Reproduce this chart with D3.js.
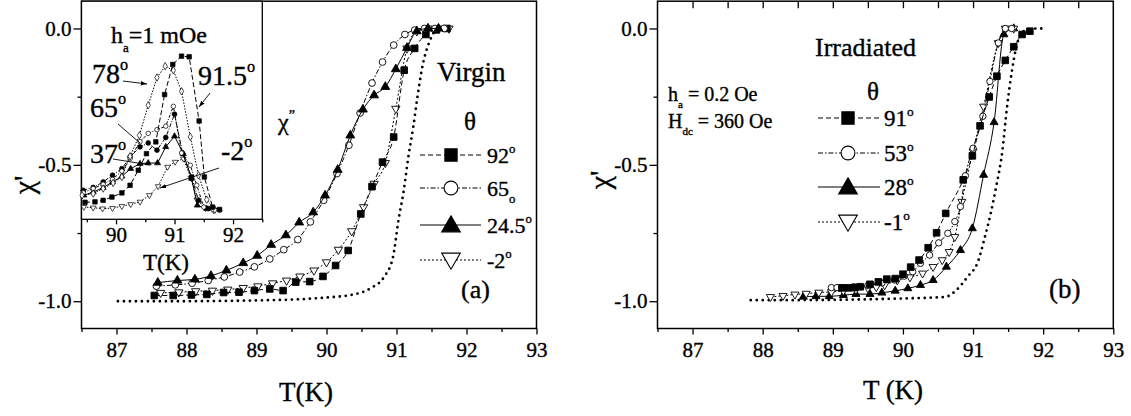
<!DOCTYPE html>
<html><head><meta charset="utf-8">
<script src="https://cdn.jsdelivr.net/npm/d3@7"></script>
<style>
html,body{margin:0;padding:0;background:#fff;}
svg{display:block;font-family:'Liberation Serif','DejaVu Serif',serif;}
svg text{font-family:'Liberation Serif','DejaVu Serif',serif !important;fill:#000;stroke:#000;stroke-width:0.35px;}
</style>
</head><body>
<svg id="c" width="1131" height="416"></svg>
<script>
// ---------------- DATA ----------------
const xTicks = [87, 88, 89, 90, 91, 92, 93];
const yTicks = [0, -0.5, -1.0];
const insetTicks = [90, 91, 92];

// Panel (a) Virgin, chi'
const a92T = [87.54,87.81,88.07,88.29,88.53,88.75,88.97,89.19,89.38,89.56,89.76,89.95,90.13,90.31,90.49,90.65,90.80,90.96,91.11,91.26,91.42,91.57,91.72];
const a92V = [-0.979,-0.979,-0.977,-0.975,-0.968,-0.967,-0.961,-0.955,-0.961,-0.930,-0.928,-0.909,-0.869,-0.814,-0.68,-0.58,-0.490,-0.398,-0.153,-0.073,-0.022,-0.005,0.0];
const a65T = [87.57,87.84,88.08,88.31,88.54,88.76,88.97,89.19,89.39,89.59,89.77,89.96,90.15,90.32,90.48,90.65,90.80,90.96,91.12,91.26,91.40,91.55,91.68];
const a65V = [-0.945,-0.940,-0.934,-0.924,-0.911,-0.893,-0.874,-0.845,-0.811,-0.774,-0.709,-0.630,-0.532,-0.428,-0.310,-0.200,-0.123,-0.061,-0.022,-0.006,0,0,0];
const a245T = [87.59,87.87,88.12,88.35,88.57,88.81,89.01,89.21,89.42,89.61,89.81,89.98,90.16,90.34,90.52,90.68,90.84,90.99,91.15,91.29,91.45,91.60];
const a245V = [-0.932,-0.924,-0.920,-0.907,-0.887,-0.860,-0.833,-0.793,-0.758,-0.711,-0.674,-0.612,-0.518,-0.392,-0.297,-0.245,-0.214,-0.149,-0.071,-0.010,0,0];
const am2T = [87.63,87.89,88.13,88.37,88.59,88.81,89.02,89.23,89.43,89.62,89.82,90.00,90.17,90.36,90.53,90.68,90.84,90.99,91.15,91.29,91.45,91.60,91.75];
const am2V = [-0.969,-0.967,-0.963,-0.961,-0.957,-0.951,-0.945,-0.934,-0.924,-0.909,-0.887,-0.857,-0.811,-0.743,-0.655,-0.569,-0.493,-0.294,-0.073,-0.010,0,0,0];
const aRefT = [87.02,87.5,88.0,88.5,89.0,89.5,89.92,90.39,90.64,90.82,90.95,91.03,91.10,91.17,91.24,91.30,91.36,91.48,91.57,91.75];
const aRefV = [-1.0,-1.0,-1.0,-0.999,-0.997,-0.994,-0.988,-0.975,-0.951,-0.912,-0.838,-0.70,-0.60,-0.47,-0.36,-0.25,-0.153,-0.043,-0.006,0];

// Inset (a): chi'' (arbitrary units, 0 = bottom of inset)
const i915T = [89.47,89.64,89.78,89.93,90.10,90.24,90.38,90.52,90.68,90.83,90.97,91.12,91.25,91.42,91.51,91.65,91.77];
const i915V = [0.078,0.080,0.087,0.102,0.121,0.156,0.225,0.301,0.355,0.572,0.710,0.748,0.745,0.451,0.194,0.056,0.045];
const i78T = [89.42,89.61,89.78,89.95,90.10,90.24,90.40,90.55,90.70,90.84,90.98,91.12,91.27,91.41,91.55,91.69];
const i78V = [0.110,0.118,0.141,0.167,0.194,0.289,0.385,0.523,0.650,0.702,0.683,0.587,0.378,0.202,0.090,0.044];
const i65T = [89.44,89.61,89.78,89.94,90.10,90.24,90.41,90.55,90.70,90.85,90.98,91.12,91.27,91.38,91.50,91.66,91.77];
const i65V = [0.122,0.141,0.161,0.183,0.221,0.278,0.356,0.394,0.411,0.427,0.518,0.304,0.248,0.156,0.056,0.044,0.041];
const iFcT = [89.44,89.61,89.78,89.94,90.10,90.24,90.41,90.55,90.70,90.85,91.00,91.14,91.29,91.41,91.58];
const iFcV = [0.133,0.146,0.171,0.202,0.232,0.286,0.332,0.350,0.317,0.375,0.482,0.301,0.194,0.087,0.049];
const i37T = [89.45,89.61,89.78,89.94,90.10,90.25,90.41,90.55,90.71,90.85,91.00,91.15,91.29,91.39,91.55];
const i37V = [0.110,0.125,0.145,0.171,0.197,0.232,0.255,0.258,0.258,0.332,0.381,0.301,0.187,0.064,0.049];
const im2T = [89.45,89.61,89.77,89.94,90.10,90.25,90.41,90.57,90.72,90.88,91.01,91.15,91.28,91.38,91.53,91.67];
const im2V = [0.056,0.053,0.049,0.051,0.060,0.069,0.080,0.110,0.151,0.240,0.263,0.278,0.190,0.090,0.050,0.040];

// Panel (b) Irradiated, chi'
const b91T = [89.13,89.22,89.31,89.39,89.53,89.65,89.77,89.89,90.00,90.11,90.23,90.36,90.48,90.61,90.86,90.99,91.10,91.23,91.34,91.46,91.58,91.70,91.81];
const b91V = [-0.951,-0.951,-0.950,-0.947,-0.938,-0.929,-0.919,-0.917,-0.901,-0.875,-0.849,-0.804,-0.749,-0.678,-0.555,-0.467,-0.357,-0.251,-0.175,-0.117,-0.067,-0.022,-0.010];
const b53T = [88.98,89.06,89.13,89.30,89.50,89.70,89.88,90.02,90.14,90.25,90.38,90.51,90.64,90.74,90.82,90.89,91.00,91.14,91.24,91.36,91.46,91.55];
const b53V = [-0.950,-0.950,-0.950,-0.947,-0.942,-0.933,-0.922,-0.908,-0.892,-0.861,-0.831,-0.786,-0.751,-0.708,-0.653,-0.54,-0.439,-0.322,-0.194,-0.053,0,0];
const b28T = [88.58,88.76,88.95,89.15,89.33,89.53,89.70,89.89,90.07,90.25,90.43,90.62,90.82,90.99,91.15,91.30,91.44,91.58];
const b28V = [-0.984,-0.982,-0.982,-0.978,-0.974,-0.974,-0.969,-0.962,-0.953,-0.941,-0.923,-0.874,-0.813,-0.733,-0.537,-0.344,-0.022,0];
const bm1T = [88.11,88.29,88.46,88.62,88.80,88.98,89.15,89.33,89.50,89.62,89.74,89.92,90.10,90.28,90.43,90.56,90.66,90.74,90.84,91.00,91.15,91.36,91.46,91.58];
const bm1V = [-0.984,-0.980,-0.975,-0.972,-0.968,-0.966,-0.962,-0.958,-0.952,-0.948,-0.941,-0.923,-0.912,-0.898,-0.874,-0.849,-0.819,-0.764,-0.635,-0.45,-0.286,-0.053,0,0];
const bRefT = [87.83,88.5,89.0,89.5,90.0,90.4,90.61,90.76,90.92,91.07,91.17,91.25,91.33,91.42,91.48,91.55,91.62,91.72,91.84,92.0];
const bRefV = [-0.996,-0.996,-0.995,-0.993,-0.990,-0.987,-0.984,-0.960,-0.911,-0.855,-0.763,-0.680,-0.580,-0.445,-0.298,-0.163,-0.065,-0.010,-0.001,0];

// ---------------- DRAWING ----------------
const FONT = "'Liberation Serif','DejaVu Serif',serif";
const svg = d3.select('#c');
svg.append('rect').attr('width',1131).attr('height',416).attr('fill','#fff');
const defs = svg.append('defs');
defs.append('marker').attr('id','ah').attr('viewBox','0 0 10 10').attr('refX',10).attr('refY',5)
  .attr('markerWidth',7).attr('markerHeight',7).attr('orient','auto')
  .append('path').attr('d','M0,1.5L10,5L0,8.5z').attr('fill','#000');

const TOP = 1.2, BOT = 328.5;
const xa = d3.scaleLinear().domain([86.5,93]).range([81.5,536.5]);
const xb = d3.scaleLinear().domain([86.5,93]).range([657.5,1113.3]);
const ya = d3.scaleLinear().domain([-1.1,0.1]).range([BOT,TOP]);
const yb = d3.scaleLinear().domain([-1.1,0.1]).range([BOT,TOP]);
const xi = d3.scaleLinear().domain([89.41,92.5]).range([81.5,262.3]);
const yi = d3.scaleLinear().domain([0,1]).range([219.3,1.2]);

const halfs = d3.range(86.5,93.01,0.5).filter(v => Math.abs(v - Math.round(v)) > 0.1);
const fmt1 = d => d.toFixed(1);

function styleAxis(g, fs) {
  g.attr('font-family', FONT);
  g.select('.domain').remove();
  g.selectAll('.tick line').attr('stroke','#000').attr('stroke-width',1.3);
  g.selectAll('.tick text').attr('font-size',fs).style('font-family', FONT).attr('fill','#000');
}

function drawFrame(xs, ys, hasTopTicks) {
  const g = svg.append('g');
  const gb = g.append('g').attr('transform',`translate(0,${BOT})`)
    .call(d3.axisBottom(xs).tickValues(xTicks).tickSize(6).tickPadding(8).tickFormat(d3.format('d')));
  styleAxis(gb, 21);
  const gbm = g.append('g').attr('transform',`translate(0,${BOT})`)
    .call(d3.axisBottom(xs).tickValues(halfs).tickSize(3.5).tickFormat(''));
  styleAxis(gbm, 21);
  const x0 = xs.range()[0];
  const gl = g.append('g').attr('transform',`translate(${x0},0)`)
    .call(d3.axisLeft(ys).tickValues(yTicks).tickSize(8).tickPadding(2).tickFormat(fmt1));
  styleAxis(gl, 21);
  const glm = g.append('g').attr('transform',`translate(${x0},0)`)
    .call(d3.axisLeft(ys).tickValues([-0.25,-0.75]).tickSize(4).tickFormat(''));
  styleAxis(glm, 21);
  if (hasTopTicks) {
    const gt = g.append('g').attr('transform',`translate(0,${TOP})`)
      .call(d3.axisBottom(xs).tickValues(d3.range(87,92.6,0.5)).tickSize(7).tickFormat(''));
    styleAxis(gt, 21);
  }
  g.append('rect').attr('x',x0).attr('y',TOP).attr('width',xs.range()[1]-x0).attr('height',BOT-TOP)
    .attr('fill','none').attr('stroke','#000').attr('stroke-width',1.5);
}

const SYM = { sq: d3.symbolSquare, ci: d3.symbolCircle, tri: d3.symbolTriangle, dia: d3.symbolDiamond };
function markers(g, pts, type, size, fill, down, sw) {
  const sy = d3.symbol().type(SYM[type]).size(size);
  g.selectAll(null).data(pts).join('path')
    .attr('transform', d => `translate(${d[0]},${d[1]})` + (down ? ' rotate(180)' : ''))
    .attr('d', sy())
    .attr('fill', fill ? '#000' : '#fff').attr('stroke','#000').attr('stroke-width', sw || 0.9);
}
function series(xs, ys, T, V, o) {
  const g = svg.append('g');
  const pts = T.map((t,i) => [xs(t), ys(V[i])]);
  g.append('path').attr('d', d3.line().curve(o.curve || d3.curveMonotoneX)(pts))
    .attr('fill','none').attr('stroke','#000').attr('stroke-width', o.lw || 1)
    .attr('stroke-dasharray', o.dash || null).attr('stroke-linecap', o.cap || 'butt');
  if (o.type) markers(g, pts, o.type, o.size, o.fill, o.down, o.msw);
}
function txt(x, y, size, anchor) {
  return svg.append('text').attr('x',x).attr('y',y).attr('font-size',size)
    .attr('text-anchor', anchor || 'start').style('font-family', FONT);
}
function label(x, y, main, sup, size, opts) {
  opts = opts || {};
  const t = txt(x, y, size, opts.anchor);
  t.append('tspan').text(main);
  if (sup) {
    const s = opts.sub ? size*0.3 : -size*0.45;
    t.append('tspan').attr('font-size', size*0.58).attr('dy', s).text(sup);
  }
  return t;
}

// ---- Panel (a)
drawFrame(xa, ya, false);
series(xa, ya, aRefT, aRefV, {dash:'0 6', lw:2.8, cap:'round'});
series(xa, ya, am2T, am2V, {dash:'2 2', type:'tri', size:30, fill:false, down:true});
series(xa, ya, a92T, a92V, {dash:'5 3', type:'sq', size:44, fill:true});
series(xa, ya, a65T, a65V, {dash:'5 2 1.5 2', type:'ci', size:36, fill:false});
series(xa, ya, a245T, a245V, {type:'tri', size:34, fill:true});

txt(437, 81, 27).text('Virgin');
txt(470, 130, 25, 'middle').text('θ');
const legA = [
  {y:155, dash:'5 3', type:'sq', size:150, fill:true, down:false, lab:'92', sub:false},
  {y:188, dash:'5 2 1.5 2', type:'ci', size:150, fill:false, down:false, lab:'65', sub:true},
  {y:225, dash:null, type:'tri', size:150, fill:true, down:false, lab:'24.5', sub:false},
  {y:260, dash:'2 2', type:'tri', size:150, fill:false, down:true, lab:'-2', sub:false}
];
legA.forEach(r => {
  svg.append('line').attr('x1',420).attr('x2',481).attr('y1',r.y).attr('y2',r.y)
    .attr('stroke','#000').attr('stroke-width',1).attr('stroke-dasharray',r.dash);
  markers(svg.append('g'), [[451,r.y + (r.type==='tri' ? (r.down?-1:1)*1.5 : 0)]], r.type, r.size, r.fill, r.down, 1.1);
  label(487, r.y + 8, r.lab, 'o', 22, {sub:r.sub});
});
label(461, 298, '(a)', null, 26);

svg.append('text').attr('transform','translate(34,185) rotate(-90)').attr('font-size',30)
  .attr('text-anchor','middle').style('font-family', FONT).text("χ'");
txt(306, 401, 27, 'middle').text('T(K)');

// ---- Inset
const gi = svg.append('g');
gi.append('rect').attr('x',81.5).attr('y',TOP).attr('width',262.3-81.5).attr('height',219.3-TOP)
  .attr('fill','#fff').attr('stroke','#000').attr('stroke-width',1.3);
const gia = svg.append('g').attr('transform','translate(0,219.3)')
  .call(d3.axisBottom(xi).tickValues(insetTicks).tickSize(5).tickPadding(3).tickFormat(d3.format('d')));
styleAxis(gia, 21);
const giam = svg.append('g').attr('transform','translate(0,219.3)')
  .call(d3.axisBottom(xi).tickValues([89.5,90.5,91.5,92.5]).tickSize(3).tickFormat(''));
styleAxis(giam, 21);
txt(166, 270, 23, 'middle').text('T(K)');

series(xi, yi, im2T, im2V, {curve:d3.curveLinear, dash:'1.5 1.5', type:'tri', size:14, fill:false, down:true, msw:0.7});
series(xi, yi, i37T, i37V, {curve:d3.curveLinear, type:'tri', size:16, fill:true, msw:0.7});
series(xi, yi, iFcT, iFcV, {curve:d3.curveLinear, dash:'4 1.5 1 1.5', type:'ci', size:18, fill:true, msw:0.7});
series(xi, yi, i65T, i65V, {curve:d3.curveLinear, dash:'3 1.5 1 1.5', type:'ci', size:16, fill:false, msw:0.7});
series(xi, yi, i78T, i78V, {curve:d3.curveLinear, dash:'1.5 1.5', type:'dia', size:16, fill:false, msw:0.7});
series(xi, yi, i915T, i915V, {curve:d3.curveLinear, dash:'5 2.5', type:'sq', size:20, fill:true, msw:0.7});

const th = txt(111, 43, 24);
th.append('tspan').text('h');
th.append('tspan').attr('font-size',13).attr('dy',9).text('a');
th.append('tspan').attr('dy',-9).text('=1 mOe');
label(92, 83, '78', 'o', 28);
label(198, 85, '91.5', 'o', 28);
label(90, 117, '65', 'o', 28);
label(90, 163, '37', 'o', 28);
label(221, 160, '-2', 'o', 28);
function arrow(x1,y1,x2,y2,head) {
  svg.append('line').attr('x1',x1).attr('y1',y1).attr('x2',x2).attr('y2',y2)
    .attr('stroke','#000').attr('stroke-width',0.9).attr('marker-end', head ? 'url(#ah)' : null);
}
arrow(123,81,147,84,true);
arrow(210,93,199,107,true);
arrow(118,124,140,143,false);
arrow(113,159,150,165,false);
arrow(219,168,160,188,true);
const tc = txt(278, 130, 24);
tc.append('tspan').text('χ');
tc.append('tspan').attr('font-size',14).attr('dy',-10).text('\u201D');

// ---- Panel (b)
drawFrame(xb, yb, true);
series(xb, yb, bRefT, bRefV, {dash:'0 6', lw:2.8, cap:'round'});
series(xb, yb, b28T, b28V, {type:'tri', size:28, fill:true});
series(xb, yb, bm1T, bm1V, {dash:'2 2', type:'tri', size:28, fill:false, down:true});
series(xb, yb, b53T, b53V, {dash:'5 2 1.5 2', type:'ci', size:32, fill:false});
series(xb, yb, b91T, b91V, {dash:'5 3', type:'sq', size:44, fill:true});

txt(815, 56, 26).text('Irradiated');
const hb = txt(668, 101, 20);
hb.append('tspan').text('h');
hb.append('tspan').attr('font-size',11).attr('dy',7).text('a');
hb.append('tspan').attr('dy',-7).text(' = 0.2 Oe');
const Hb = txt(668, 128, 20);
Hb.append('tspan').text('H');
Hb.append('tspan').attr('font-size',11).attr('dy',7).text('dc');
Hb.append('tspan').attr('dy',-7).text(' = 360 Oe');
txt(873, 100, 25, 'middle').text('θ');
const legB = [
  {y:118, dash:'5 3', type:'sq', size:150, fill:true, down:false, lab:'91'},
  {y:153, dash:'5 2 1.5 2', type:'ci', size:150, fill:false, down:false, lab:'53'},
  {y:187, dash:null, type:'tri', size:150, fill:true, down:false, lab:'28'},
  {y:222, dash:'2 2', type:'tri', size:150, fill:false, down:true, lab:'-1'}
];
legB.forEach(r => {
  svg.append('line').attr('x1',818).attr('x2',880).attr('y1',r.y).attr('y2',r.y)
    .attr('stroke','#000').attr('stroke-width',1).attr('stroke-dasharray',r.dash);
  markers(svg.append('g'), [[848,r.y + (r.type==='tri' ? (r.down?-1:1)*1.5 : 0)]], r.type, r.size, r.fill, r.down, 1.1);
  label(884, r.y + 8, r.lab, 'o', 23);
});
label(1049, 298, '(b)', null, 27);
svg.append('text').attr('transform','translate(610,180) rotate(-90)').attr('font-size',30)
  .attr('text-anchor','middle').style('font-family', FONT).text("χ'");
txt(893, 399, 27, 'middle').text('T (K)');
</script>
</body></html>
